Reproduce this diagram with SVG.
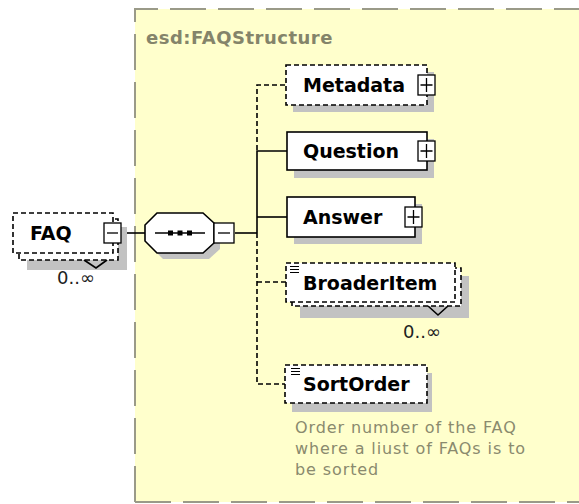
<svg xmlns="http://www.w3.org/2000/svg" width="579" height="504" viewBox="0 0 579 504">
<style>
.box{fill:#ffffff;stroke:#000;stroke-width:1.6}
.dbox{fill:#ffffff;stroke:#000;stroke-width:1.6;stroke-dasharray:5 3}
.sh{fill:#c2c2c2}
.btn{fill:#ffffff;stroke:#000;stroke-width:1.3}
.sign{stroke:#000;stroke-width:1.3;fill:none}
.ln{stroke:#000;stroke-width:1.6;fill:none}
.dln{stroke:#000;stroke-width:1.6;fill:none;stroke-dasharray:5 3}
.name{font-family:"DejaVu Sans",Verdana,sans-serif;font-weight:bold;font-size:19px;fill:#000}
.occ{font-family:"DejaVu Sans",Verdana,sans-serif;font-size:18px;fill:#222}
.doc{font-family:"DejaVu Sans",Tahoma,sans-serif;font-size:16px;letter-spacing:0.9px;fill:#8a8a6e}
.ttl{font-family:"DejaVu Sans",Verdana,sans-serif;font-weight:bold;font-size:18px;letter-spacing:0.5px;fill:#84846a}
.ico{stroke:#000;stroke-width:1}
</style>
<rect x="0" y="0" width="579" height="504" fill="#ffffff"/>
<g id="container">
<rect x="135" y="9" width="460" height="493" fill="#ffffcc"/>
<path d="M135 502 V9 H579" fill="none" stroke="#9a9a88" stroke-width="2" stroke-dasharray="36 12"/>
<path d="M135 502 H579" fill="none" stroke="#9a9a88" stroke-width="2" stroke-dasharray="36 12"/>
<text class="ttl" x="146" y="44">esd:FAQStructure</text>
</g>
<g id="connectors">
<path class="ln" d="M122 233 H145"/>
<path class="ln" d="M235 233 H257"/>
<path class="dln" d="M285 85 H257 V150"/>
<path class="ln" d="M287 151 H257 V233"/>
<path class="ln" d="M257 217 H287"/>
<path class="dln" d="M257 233 V384 H285"/>
<path class="dln" d="M257 282 H286"/>
</g>
<g id="FAQ">
<rect class="sh" x="27" y="227" width="100" height="43"/>
<rect class="dbox" x="19" y="219" width="99" height="41"/>
<rect class="dbox" x="13" y="213" width="100" height="40"/>
<text class="name" x="30" y="240">FAQ</text>
<rect class="btn" x="104" y="223" width="17" height="20"/>
<path class="sign" d="M107 233 H118"/>
<path class="ln" d="M84 260 L96 268 L107 260"/>
<text class="occ" x="57" y="284">0..∞</text>
</g>
<g id="sequence">
<polygon class="sh" points="163,219 209,219 220,229 220,249 209,259 163,259 151,247 151,231"/>
<polygon class="box" points="157,213 203,213 214,223 214,243 203,253 157,253 145,241 145,225"/>
<path class="ln" d="M155 233 H205"/>
<rect x="168" y="230.5" width="5" height="5" fill="#000"/>
<rect x="177.5" y="230.5" width="5" height="5" fill="#000"/>
<rect x="187" y="230.5" width="5" height="5" fill="#000"/>
<rect class="btn" x="214" y="223" width="20" height="20"/>
<path class="sign" d="M218 233 H230"/>
</g>
<g id="Metadata">
<rect class="sh" x="293" y="72" width="141" height="40"/>
<rect class="dbox" x="286" y="65" width="141" height="40"/>
<text class="name" x="303" y="92">Metadata</text>
<rect class="btn" x="418" y="75" width="17" height="20"/>
<path class="sign" d="M420.5 85 H432.5 M426.5 78 V92"/>
</g>
<g id="Question">
<rect class="sh" x="294" y="139" width="140" height="39"/>
<rect class="box" x="287" y="132" width="140" height="38"/>
<text class="name" x="303" y="158">Question</text>
<rect class="btn" x="418" y="141" width="17" height="20"/>
<path class="sign" d="M420.5 151 H432.5 M426.5 144 V158"/>
</g>
<g id="Answer">
<rect class="sh" x="294" y="204" width="128" height="40"/>
<rect class="box" x="287" y="197" width="128" height="40"/>
<text class="name" x="303" y="224">Answer</text>
<rect class="btn" x="405" y="207" width="17" height="20"/>
<path class="sign" d="M407.5 217 H419.5 M413.5 210 V224"/>
</g>
<g id="BroaderItem">
<rect class="sh" x="300" y="276" width="169" height="42"/>
<rect class="dbox" x="292" y="268" width="169" height="38"/>
<rect class="dbox" x="286" y="263" width="169" height="39"/>
<path class="ico" d="M290 266.5 H299 M290 269.5 H299 M290 272.5 H299"/>
<text class="name" x="303" y="290">BroaderItem</text>
<path class="ln" d="M428 306 L438 315 L448 306"/>
<text class="occ" x="403" y="338">0..∞</text>
</g>
<g id="SortOrder">
<rect class="sh" x="292" y="373" width="140" height="39"/>
<rect class="dbox" x="285" y="365" width="142" height="38"/>
<path class="ico" d="M291 368.5 H300 M291 371.5 H300 M291 374.5 H300"/>
<text class="name" x="303" y="391">SortOrder</text>
<text class="doc" x="295" y="433">Order number of the FAQ</text>
<text class="doc" x="295" y="454">where a liust of FAQs is to</text>
<text class="doc" x="295" y="475">be sorted</text>
</g>
</svg>
